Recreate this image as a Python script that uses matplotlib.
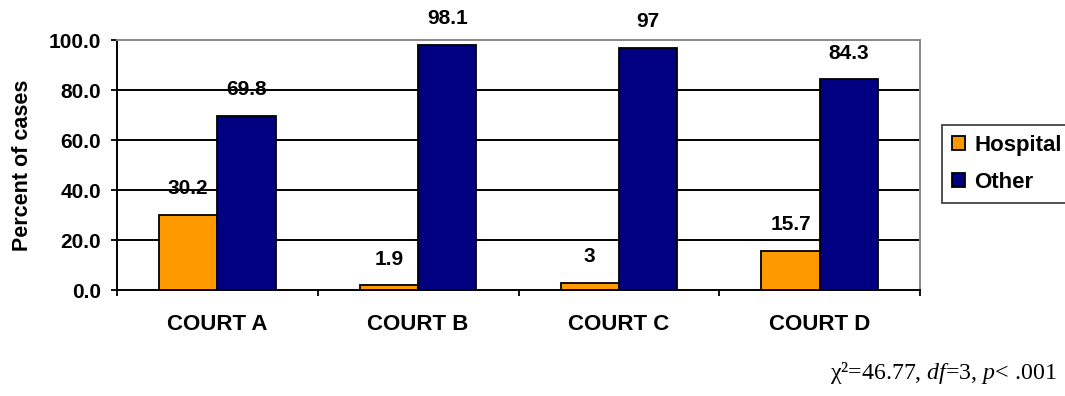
import matplotlib.pyplot as plt
import numpy as np

# data
courts = ['COURT A', 'COURT B', 'COURT C', 'COURT D']
hospital = [30.2, 1.9, 3, 15.7]
other = [69.8, 98.1, 97, 84.3]
hospital_labels = ['30.2', '1.9', '3', '15.7']
other_labels = ['69.8', '98.1', '97', '84.3']
yticks = [0, 20, 40, 60, 80, 100]

plt.rcParams['font.family'] = ['Liberation Sans', 'DejaVu Sans']
plt.rcParams['mathtext.fontset'] = 'custom'
plt.rcParams['mathtext.rm'] = 'Liberation Serif'
plt.rcParams['mathtext.it'] = 'Liberation Serif:italic'

fig = plt.figure(figsize=(10.65, 3.96), dpi=100)
ax = fig.add_axes([117 / 1065, 1 - 290 / 396, (920 - 117) / 1065, 250 / 396])

x = np.arange(len(courts))
w = 0.29
b1 = ax.bar(x - w / 2, hospital, w, color='#FF9900', edgecolor='black', linewidth=1.3, label='Hospital', zorder=3)
b2 = ax.bar(x + w / 2, other, w, color='#000080', edgecolor='black', linewidth=1.3, label='Other', zorder=3)

fs = 15
for bars, labels in [(b1, hospital_labels), (b2, other_labels)]:
    for rect, lab in zip(bars, labels):
        ax.annotate(lab, (rect.get_x() + rect.get_width() / 2, rect.get_height()),
                    xytext=(0, 12), textcoords='offset points', ha='center', va='bottom',
                    fontsize=fs, fontweight='bold', zorder=4, annotation_clip=False)

ax.set_xlim(-0.5, 3.5)
ax.set_ylim(0, 100)
ax.set_yticks(yticks)
ax.set_yticklabels([f'{v:.1f}' for v in yticks], fontsize=fs, fontweight='bold')
ax.set_xticks(x)
ax.set_xticklabels(courts, fontsize=16, fontweight='bold')
ax.set_xticks(np.arange(-0.5, 4, 1), minor=True)
ax.tick_params(axis='x', which='major', length=0, pad=17)
ax.tick_params(axis='x', which='minor', length=4, width=1.3, direction='out')
ax.tick_params(axis='y', length=4, width=1.3, pad=7.5)

for v in yticks[1:-1]:
    ax.axhline(v, color='black', linewidth=1.4, zorder=1)

ax.spines['left'].set_linewidth(1.4)
ax.spines['bottom'].set_linewidth(1.4)
ax.spines['top'].set_color('#888888')
ax.spines['right'].set_color('#888888')
ax.spines['top'].set_linewidth(1.4)
ax.spines['right'].set_linewidth(1.4)

ax.set_ylabel('Percent of cases', fontsize=15.5, fontweight='bold')
ax.yaxis.set_label_coords(-0.104, 0.5)

leg = fig.legend(loc='upper left', bbox_to_anchor=(942 / 1065, 1 - 125 / 396),
                 prop={'size': 16, 'weight': 'bold'}, frameon=True, fancybox=False,
                 edgecolor='black', handlelength=0.6, handleheight=0.6, handletextpad=0.4,
                 borderpad=0.45, labelspacing=0.7, borderaxespad=0)
leg.get_frame().set_linewidth(1.2)

fig.text(830 / 1065, 1 - 379 / 396,
         r'χ²=46.77, $\mathit{df}$=3, $\mathit{p}$< .001',
         family='Liberation Serif', fontsize=17.2, va='baseline')

fig.savefig('out.png', dpi=100)
